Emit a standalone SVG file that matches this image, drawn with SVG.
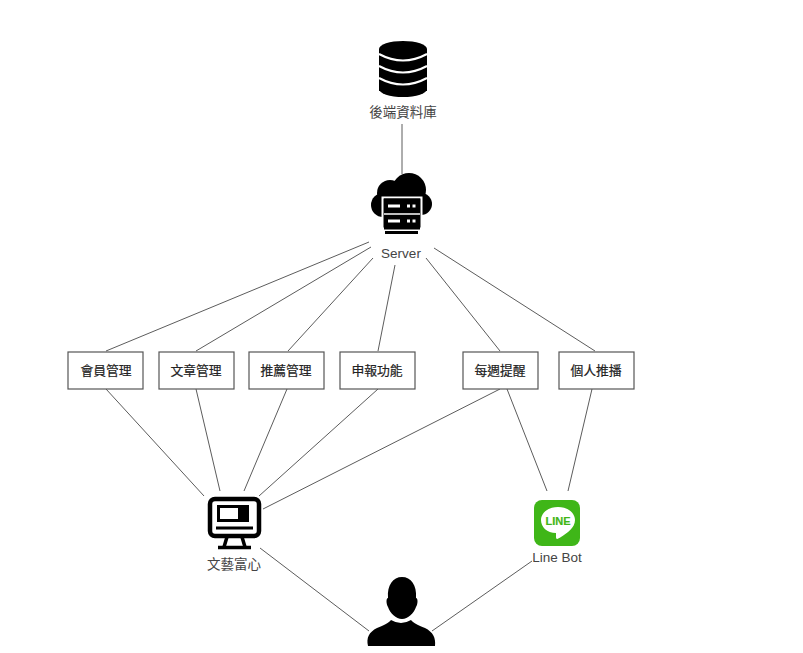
<svg xmlns="http://www.w3.org/2000/svg" width="803" height="653" viewBox="0 0 803 653">
<style>
.c{stroke:#5c5c5c;stroke-width:1;fill:none}
.b{fill:#fff;stroke:#555;stroke-width:1.2}
text{font-family:"Liberation Sans","Noto Sans CJK TC",sans-serif;font-size:13.500px;text-anchor:middle}
.t{fill:#222;font-size:12.800px;stroke:#222;stroke-width:.2}
.l{fill:#444}
</style>
<rect width="803" height="653" fill="#fff"/>
<g id="connectors" class="c">
<path d="M402 124V174"/>
<path d="M369 242L106 351"/>
<path d="M371 247L196 351"/>
<path d="M373 258L288 351"/>
<path d="M395 265L378 351"/>
<path d="M426 258L500 351"/>
<path d="M434 248L595 351"/>
<path d="M106 389L204 496"/>
<path d="M196 389L220 491"/>
<path d="M287 389L244 491"/>
<path d="M378 389L259 496"/>
<path d="M500 389L263 509"/>
<path d="M507 389L547 491"/>
<path d="M592 389L568 491"/>
<path d="M260 548L369 631"/>
<path d="M532 561L432 631"/>
</g>
<g id="db">
<rect x="379" y="49" width="48" height="42" fill="#000"/>
<ellipse cx="403" cy="49" rx="24" ry="8" fill="#000"/>
<ellipse cx="403" cy="89" rx="24" ry="8" fill="#000"/>
<path d="M379 54Q403 67 427 54M379 66Q403 79 427 66M379 78Q403 91 427 78" fill="none" stroke="#fff" stroke-width="2"/>
<text class="l" x="403" y="117">後端資料庫</text>
</g>
<g id="server">
<g fill="#000">
<circle cx="383" cy="205" r="12"/>
<circle cx="390" cy="193" r="13"/>
<circle cx="409" cy="190" r="17"/>
<circle cx="421" cy="204" r="11"/>
<rect x="383" y="192" width="38" height="26"/>
</g>
<rect x="382.500" y="197.500" width="39" height="31" fill="#000" stroke="#fff" stroke-width="2"/>
<rect x="384" y="198.500" width="36" height="31" fill="#000"/>
<path d="M388 206H400M388 221H400" stroke="#fff" stroke-width="3"/>
<path d="M407 206H410M412.500 206H415.500M407 221H410M412.500 221H415.500" stroke="#fff" stroke-width="3"/>
<path d="M384 214H420" stroke="#fff" stroke-width="1.500"/>
<path d="M385 232.500H418" stroke="#000" stroke-width="3"/>
<text class="l" x="401" y="258">Server</text>
</g>
<g id="n1"><rect class="b" x="68" y="352" width="75" height="37"/><text class="t" x="106" y="375">會員管理</text></g>
<g id="n2"><rect class="b" x="159" y="352" width="75" height="37"/><text class="t" x="196" y="375">文章管理</text></g>
<g id="n3"><rect class="b" x="249" y="352" width="75" height="37"/><text class="t" x="286" y="375">推薦管理</text></g>
<g id="n4"><rect class="b" x="340" y="352" width="75" height="37"/><text class="t" x="377" y="375">申報功能</text></g>
<g id="n5"><rect class="b" x="463" y="352" width="75" height="37"/><text class="t" x="500" y="375">每週提醒</text></g>
<g id="n6"><rect class="b" x="559" y="352" width="75" height="37"/><text class="t" x="596" y="375">個人推播</text></g>
<g id="web">
<rect x="210" y="499" width="49" height="37" rx="5" fill="none" stroke="#000" stroke-width="4.500"/>
<rect x="218.500" y="506.500" width="29" height="14" fill="none" stroke="#000" stroke-width="3"/>
<rect x="238" y="505.500" width="10" height="15" fill="#000"/>
<path d="M216 528H253" stroke="#000" stroke-width="3"/>
<path d="M227 537L224 547M242 537L245 547" stroke="#000" stroke-width="3.500" fill="none"/>
<path d="M218 547.500H251" stroke="#000" stroke-width="3.500"/>
<text class="l" x="234" y="569">文藝富心</text>
</g>
<g id="linebot">
<rect x="534" y="500" width="46" height="46" rx="8" fill="#3fb618"/>
<path d="M558 507C568 507 575 513 575 520C575 528 567 533 561 537C558 539 556 540 556 537L556 533C547 533 541 527 541 520C541 513 548 507 558 507Z" fill="#fff"/>
<text x="558" y="524.500" style="font-size:11px;font-weight:700;fill:#3fb618;stroke:#3fb618;stroke-width:.2">LINE</text>
<text class="l" x="557" y="562">Line Bot</text>
</g>
<g id="user">
<path d="M388 598C387 585 393 577 402 577C411 577 417 585 416 598C418 598 418 604 416 607C414 613 408 619 402 619C396 619 390 613 388 607C386 604 386 598 388 598Z" fill="#000"/>
<path d="M368 646C366 638 369 632 377 628C384 625 389 623 391 620Q401 626 411 620C413 623 418 625 425 628C433 632 436 638 435 646Z" fill="#000"/>
</g>
</svg>
